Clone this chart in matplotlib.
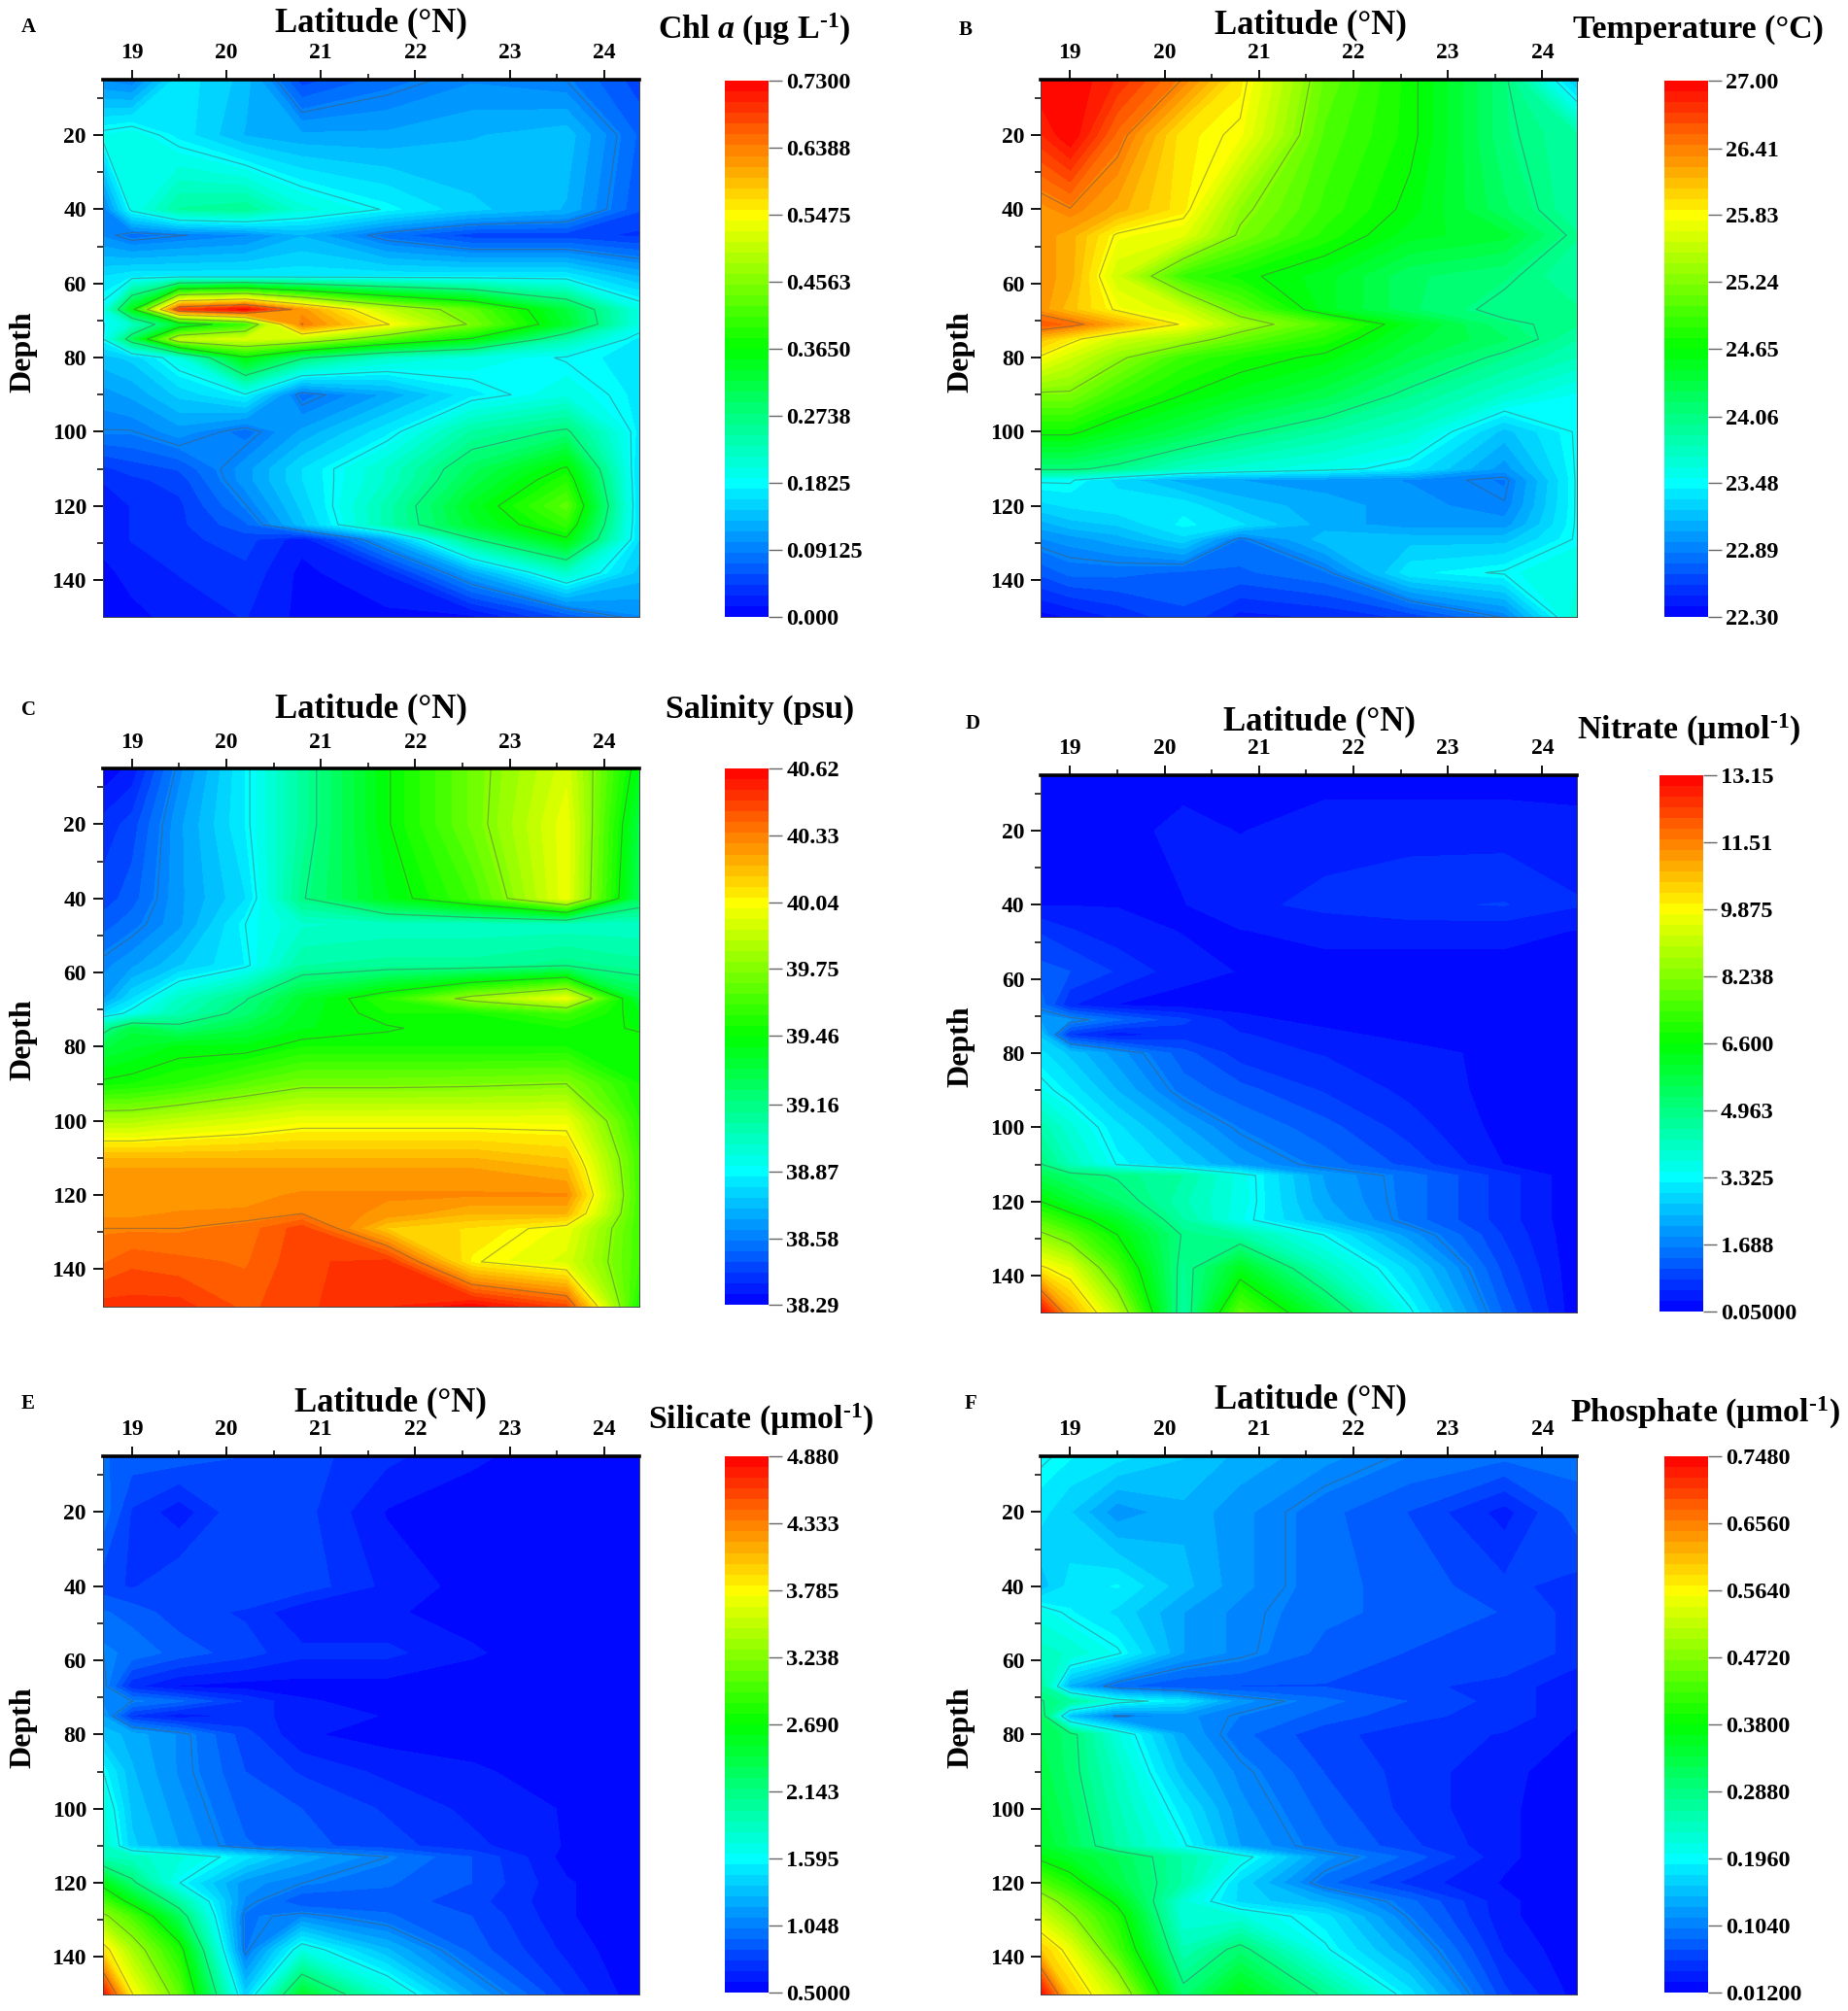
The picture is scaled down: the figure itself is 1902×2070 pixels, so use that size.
import numpy as np
import matplotlib
matplotlib.use('Agg')
import matplotlib.pyplot as plt
from matplotlib.colors import LinearSegmentedColormap

plt.rcParams['font.family'] = ['Liberation Serif', 'DejaVu Serif']
plt.rcParams['font.weight'] = 'bold'
plt.rcParams['mathtext.fontset'] = 'custom'
plt.rcParams['mathtext.rm'] = 'Liberation Serif:bold'
plt.rcParams['mathtext.it'] = 'Liberation Serif:italic:bold'
plt.rcParams['mathtext.bf'] = 'Liberation Serif:bold'

lats = [18.69, 19.0, 19.5, 20.2, 20.8, 21.7, 22.6, 23.6, 24.37]
depths = [5, 20, 40, 47, 58, 67, 71, 75, 80, 90, 100, 110, 113, 120, 125, 129, 138, 150]

chl = [
    [.10, .09, .17, .14, .05, .08, .10, .09, .05],
    [.19, .20, .17, .13, .12, .12, .13, .14, .07],
    [.09, .19, .25, .26, .21, .18, .15, .13, .06],
    [.10, .08, .09, .10, .13, .08, .05, .05, .04],
    [.16, .17, .17, .17, .17, .17, .17, .17, .13],
    [.19, .35, .68, .72, .62, .50, .43, .32, .20],
    [.18, .22, .33, .40, .64, .55, .45, .33, .20],
    [.18, .30, .50, .52, .50, .42, .36, .24, .17],
    [.14, .15, .20, .36, .28, .22, .20, .18, .17],
    [.11, .12, .15, .18, .08, .12, .17, .20, .17],
    [.09, .09, .11, .08, .12, .17, .25, .28, .17],
    [.04, .05, .06, .11, .16, .22, .30, .37, .16],
    [.03, .04, .05, .11, .16, .22, .31, .39, .16],
    [.02, .03, .04, .09, .15, .24, .34, .43, .16],
    [.02, .03, .04, .07, .14, .24, .33, .40, .16],
    [.02, .03, .04, .05, .02, .12, .27, .36, .16],
    [.01, .02, .03, .04, .01, .03, .12, .22, .14],
    [.005, .01, .02, .03, .01, .01, .01, .06, .10],
]
temp = [
    [27.0, 27.0, 26.8, 26.4, 25.9, 25.1, 24.7, 24.1, 23.2],
    [26.8, 27.0, 26.5, 25.9, 25.8, 25.0, 24.7, 24.1, 23.9],
    [26.3, 26.4, 26.2, 25.9, 25.3, 24.9, 24.6, 24.2, 23.9],
    [26.3, 26.2, 25.8, 25.7, 25.2, 24.8, 24.5, 24.4, 24.0],
    [26.3, 26.2, 25.6, 24.9, 24.7, 24.5, 24.2, 24.1, 23.9],
    [26.3, 26.1, 25.8, 25.6, 25.1, 24.5, 24.2, 24.0, 24.0],
    [26.6, 26.5, 26.2, 25.8, 25.4, 25.0, 24.5, 24.1, 24.0],
    [26.1, 25.9, 25.6, 25.4, 25.1, 24.8, 24.4, 24.2, 23.9],
    [25.8, 25.6, 25.3, 24.9, 24.75, 24.6, 24.3, 24.0, 23.8],
    [25.2, 25.2, 24.9, 24.65, 24.5, 24.3, 24.0, 23.7, 23.5],
    [24.7, 24.7, 24.5, 24.3, 24.1, 23.9, 23.7, 23.2, 23.5],
    [24.1, 24.1, 24.0, 23.75, 23.65, 23.55, 23.4, 23.0, 23.5],
    [23.5, 23.5, 23.3, 23.1, 23.05, 23.0, 22.95, 22.85, 23.5],
    [23.3, 23.35, 23.4, 23.4, 23.2, 23.1, 23.0, 22.9, 23.5],
    [23.1, 23.2, 23.25, 23.45, 23.35, 23.1, 23.0, 23.0, 23.5],
    [22.95, 23.0, 23.1, 23.3, 22.85, 23.2, 23.2, 23.2, 23.5],
    [22.7, 22.8, 22.8, 22.75, 22.75, 22.85, 23.4, 23.5, 23.6],
    [22.35, 22.4, 22.5, 22.65, 22.45, 22.5, 22.6, 22.9, 23.7],
]
salinity = [
    [38.30, 38.35, 38.60, 38.85, 39.10, 39.45, 39.70, 39.95, 39.40],
    [38.40, 38.45, 38.65, 38.85, 39.10, 39.45, 39.70, 40.00, 39.30],
    [38.45, 38.50, 38.65, 38.80, 39.15, 39.40, 39.60, 40.00, 39.25],
    [38.50, 38.55, 38.65, 38.87, 38.98, 39.00, 39.00, 39.00, 39.00],
    [38.60, 38.65, 38.75, 38.85, 39.08, 39.10, 39.10, 39.15, 39.10],
    [38.65, 38.80, 39.00, 39.15, 39.35, 39.55, 39.80, 40.00, 39.30],
    [38.80, 38.90, 39.05, 39.20, 39.38, 39.50, 39.50, 39.60, 39.42],
    [39.10, 39.30, 39.20, 39.30, 39.40, 39.45, 39.50, 39.50, 39.45],
    [39.30, 39.35, 39.42, 39.42, 39.50, 39.50, 39.50, 39.50, 39.50],
    [39.48, 39.50, 39.55, 39.65, 39.72, 39.72, 39.73, 39.75, 39.50],
    [39.85, 39.85, 39.90, 39.95, 40.00, 40.00, 40.00, 40.00, 39.55],
    [40.20, 40.20, 40.20, 40.20, 40.20, 40.20, 40.20, 40.15, 39.60],
    [40.25, 40.25, 40.25, 40.25, 40.25, 40.25, 40.25, 40.20, 39.60],
    [40.25, 40.25, 40.25, 40.28, 40.30, 40.30, 40.30, 40.30, 39.60],
    [40.28, 40.28, 40.30, 40.30, 40.33, 40.28, 40.20, 40.20, 39.60],
    [40.33, 40.33, 40.33, 40.36, 40.46, 40.15, 40.10, 40.00, 39.60],
    [40.38, 40.42, 40.40, 40.38, 40.47, 40.50, 40.05, 39.95, 39.60],
    [40.50, 40.50, 40.50, 40.42, 40.47, 40.52, 40.60, 40.45, 39.50],
]
nitrate = [
    [.2, .2, .2, .2, .25, .2, .2, .2, .2],
    [.2, .2, .2, .4, .3, .45, .45, .45, .4],
    [.3, .3, .3, .3, .5, .65, .8, .85, .6],
    [.8, .6, .4, .3, .3, .4, .4, .4, .3],
    [1.2, 1.1, .8, .4, .3, .2, .2, .2, .2],
    [1.5, .6, .3, .2, .2, .15, .15, .15, .15],
    [2.1, 1.9, 1.4, .9, .4, .2, .15, .15, .15],
    [2.6, .8, .4, .7, .6, .4, .2, .2, .15],
    [3.0, 2.6, 2.0, 1.2, .7, .55, .45, .2, .15],
    [3.5, 3.1, 2.4, 1.5, 1.2, .8, .5, .2, .12],
    [4.4, 3.8, 3.0, 2.2, 1.6, 1.2, .7, .2, .1],
    [5.0, 4.2, 3.3, 2.7, 2.1, 1.5, 1.0, .3, .1],
    [5.6, 5.2, 4.9, 4.5, 3.6, 2.1, 1.5, .7, .1],
    [6.6, 6.0, 5.3, 4.3, 3.6, 2.2, 1.5, .7, .1],
    [7.6, 7.0, 6.1, 4.5, 3.5, 2.4, 1.5, .7, .1],
    [8.4, 7.8, 6.6, 4.9, 4.5, 3.3, 2.0, .8, .1],
    [10.0, 9.5, 7.5, 4.7, 6.2, 4.2, 2.8, 1.0, .1],
    [13.1, 11.0, 9.0, 4.5, 7.8, 5.7, 3.4, 1.3, .1],
]
silicate = [
    [.95, .9, .9, .85, .8, .7, .6, .55, .55],
    [1.0, .75, .62, .85, .8, .58, .55, .55, .52],
    [.8, .75, .85, .85, .82, .65, .55, .52, .5],
    [.95, .9, .8, .75, .6, .6, .55, .5, .5],
    [1.05, 1.0, .9, .8, .7, .7, .6, .52, .5],
    [1.1, .7, .58, .55, .55, .55, .53, .52, .5],
    [1.1, 1.05, .95, .75, .6, .55, .53, .52, .5],
    [1.2, .75, .62, .7, .65, .58, .55, .52, .5],
    [1.35, 1.25, 1.1, .8, .6, .55, .55, .52, .5],
    [1.6, 1.3, 1.1, .85, .75, .65, .6, .55, .5],
    [1.75, 1.35, 1.15, .9, .85, .75, .65, .58, .5],
    [1.85, 1.4, 1.2, .95, .88, .8, .7, .58, .5],
    [1.9, 1.85, 1.75, 1.5, 1.25, 1.05, .85, .55, .5],
    [2.6, 2.2, 1.6, 1.15, 1.05, .95, .85, .6, .5],
    [3.0, 2.6, 2.0, 1.1, .85, .9, .8, .6, .5],
    [3.3, 3.0, 2.3, 1.0, 1.1, .95, .85, .6, .5],
    [3.9, 3.4, 2.8, 1.0, 1.7, 1.3, .9, .65, .5],
    [4.8, 3.8, 3.1, 1.4, 2.5, 1.8, 1.2, .75, .52],
]
phosphate = [
    [.2, .19, .18, .16, .14, .12, .10, .09, .09],
    [.18, .16, .12, .14, .12, .09, .07, .035, .08],
    [.15, .18, .19, .15, .12, .09, .08, .06, .05],
    [.21, .19, .17, .13, .11, .09, .08, .07, .05],
    [.24, .23, .20, .13, .11, .08, .07, .07, .05],
    [.27, .14, .09, .07, .07, .07, .06, .05, .03],
    [.29, .27, .21, .18, .12, .09, .07, .05, .03],
    [.31, .15, .10, .12, .10, .08, .06, .05, .03],
    [.32, .3, .22, .13, .09, .06, .05, .04, .025],
    [.33, .3, .24, .15, .11, .07, .05, .03, .02],
    [.34, .31, .25, .18, .12, .08, .05, .03, .015],
    [.35, .32, .26, .2, .13, .09, .06, .03, .015],
    [.37, .35, .32, .26, .21, .12, .08, .03, .015],
    [.44, .4, .33, .26, .17, .09, .05, .025, .015],
    [.5, .45, .37, .22, .17, .14, .09, .03, .015],
    [.53, .48, .40, .22, .22, .18, .1, .03, .015],
    [.6, .55, .43, .25, .3, .2, .13, .04, .015],
    [.74, .6, .52, .3, .37, .28, .18, .06, .02],
]

chl_ticks = ['0.000', '0.09125', '0.1825', '0.2738', '0.3650', '0.4563', '0.5475', '0.6388', '0.7300']
temp_ticks = ['22.30', '22.89', '23.48', '24.06', '24.65', '25.24', '25.83', '26.41', '27.00']
sal_ticks = ['38.29', '38.58', '38.87', '39.16', '39.46', '39.75', '40.04', '40.33', '40.62']
no3_ticks = ['0.05000', '1.688', '3.325', '4.963', '6.600', '8.238', '9.875', '11.51', '13.15']
si_ticks = ['0.5000', '1.048', '1.595', '2.143', '2.690', '3.238', '3.785', '4.333', '4.880']
po4_ticks = ['0.01200', '0.1040', '0.1960', '0.2880', '0.3800', '0.4720', '0.5640', '0.6560', '0.7480']

W, H = 1902, 2070
S = 1902 / 1440  # positions below were measured on a 1440 wide view

fig = plt.figure(figsize=(W / 100, H / 100), dpi=100)
cmap = LinearSegmentedColormap.from_list('rainbow5', ['#0000ff', '#00ffff', '#00ff00', '#ffff00', '#ff0000'])


def box(x0, y0, x1, y1):
    return [x0 * S / W, 1 - y1 * S / H, (x1 - x0) * S / W, (y1 - y0) * S / H]


def label(x, y, s, **kw):
    fig.text(x * S / W, 1 - (y + 1.2) * S / H, s, ha='center', va='center', **kw)


def panel(values, ticks, title, letter, ax_x, ax_y, cb_x, cb_y, letter_xy, lat_xy, title_xy, depth_xy):
    ax = fig.add_axes(box(ax_x, ax_y, ax_x + 418, ax_y + 419))
    tick_vals = [float(t) for t in ticks]
    levels = np.linspace(tick_vals[0], tick_vals[-1], 51)
    z = np.clip(np.array(values), tick_vals[0], tick_vals[-1])
    cf = ax.contourf(lats, depths, z, levels=levels, cmap=cmap)
    ax.contour(lats, depths, z, levels=tick_vals[1:-1], colors='#555555', linewidths=0.9, alpha=0.45)

    ax.set_xlim(18.69, 24.37)
    ax.set_ylim(150, 5)
    ax.xaxis.tick_top()
    ax.set_xticks([19, 20, 21, 22, 23, 24])
    ax.set_xticks([19.5, 20.5, 21.5, 22.5, 23.5], minor=True)
    ax.set_yticks(np.arange(20, 141, 20))
    ax.set_yticks(np.arange(10, 150, 20), minor=True)
    ax.tick_params(axis='both', which='major', length=7, width=1.3, labelsize=17, pad=5)
    ax.tick_params(axis='both', which='minor', length=4, width=1.1)
    for name, spine in ax.spines.items():
        spine.set_linewidth(0.7)
        spine.set_color('#444444')
    ax.spines['top'].set_linewidth(2.6)
    ax.spines['top'].set_color('black')

    cax = fig.add_axes(box(cb_x, cb_y, cb_x + 34, cb_y + 418))
    cb = fig.colorbar(cf, cax=cax, ticks=tick_vals)
    cb.ax.set_yticklabels(ticks)
    cb.outline.set_visible(False)
    cb.ax.minorticks_off()
    cb.ax.tick_params(length=10, width=1, color='#666666', labelsize=17.5, pad=3)

    label(letter_xy[0], letter_xy[1], letter, fontsize=15)
    label(lat_xy[0], lat_xy[1], 'Latitude (°N)', fontsize=25)
    label(title_xy[0], title_xy[1], title, fontsize=24.5)
    label(depth_xy[0], depth_xy[1], 'Depth', fontsize=23, rotation=90)


panel(chl, chl_ticks, 'Chl $\\mathit{a}$ (µg L$^{‐1}$)', 'A', 80, 62, 565, 63,
      (22, 20), (289, 17), (588, 22), (18, 273))
panel(temp, temp_ticks, 'Temperature (°C)', 'B', 811, 62, 1297, 63,
      (752, 22), (1021, 18), (1323, 22), (749, 273))
panel(salinity, sal_ticks, 'Salinity (psu)', 'C', 80, 599, 565, 599,
      (22, 552), (289, 551), (592, 552), (18, 809))
panel(nitrate, no3_ticks, 'Nitrate (µmol$^{‐1}$)', 'D', 811, 604, 1293, 604,
      (758, 563), (1028, 561), (1316, 568), (749, 814))
panel(silicate, si_ticks, 'Silicate (µmol$^{‐1}$)', 'E', 80, 1135, 565, 1135,
      (22, 1093), (304, 1092), (593, 1105), (18, 1345))
panel(phosphate, po4_ticks, 'Phosphate (µmol$^{‐1}$)', 'F', 811, 1135, 1297, 1135,
      (756, 1093), (1021, 1090), (1329, 1100), (749, 1345))

fig.savefig('out.png', dpi=100)
